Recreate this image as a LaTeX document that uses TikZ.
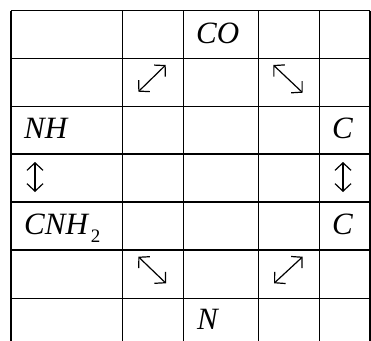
\documentclass[tikz,border=0pt]{standalone}
\usepackage{fontspec}
\setmainfont{Liberation Serif}
\usetikzlibrary{arrows.meta}
\begin{document}
\begin{tikzpicture}[x=1pt,y=-1pt,
  gridline/.style={line width=1.3pt,black},
  chem/.style={anchor=base west,inner sep=0pt,font=\fontsize{31}{31}\selectfont\itshape},
  dbl/.style={line width=1.2pt,{Straight Barb[length=7.5pt,width=16pt,line width=1.2pt]}-{Straight Barb[length=7.5pt,width=16pt,line width=1.2pt]}}]
\useasboundingbox (0,0) rectangle (371,340);
\begin{scope}
\clip (0,0) rectangle (371,340);
% vertical lines
\foreach \x in {11,122.5,183.5,258.5,319.5,370}
  \draw[gridline] (\x,10.5) -- (\x,345);
% horizontal lines
\foreach \y in {10.5,58.5,106.5,154,202,250,298.5}
  \draw[gridline] (11,\y) -- (370,\y);
\end{scope}
% texts
\node[chem] (co) at (196,43.5) {CO};
\node[chem] (nh) at (24,138) {NH};
\node[chem] (c1) at (332,138) {C};
\node[chem] (cnh) at (24,234) {CNH\kern3pt\raisebox{-8.5pt}{\fontsize{19}{19}\selectfont\upshape 2}};
\node[chem] (c2) at (332,234) {C};
\node[chem] (n) at (197,329) {N};
% arrow endpoints
\coordinate (a1s) at (138.3,91.7); \coordinate (a1e) at (165.7,65);
\coordinate (a2s) at (273.3,65);   \coordinate (a2e) at (302.7,92.7);
\coordinate (a3s) at (35,162);     \coordinate (a3e) at (35,192);
\coordinate (a4s) at (343,162);    \coordinate (a4e) at (343,192);
\coordinate (a5s) at (138.3,256.7); \coordinate (a5e) at (166,283.3);
\coordinate (a6s) at (274,283.3);  \coordinate (a6e) at (302.7,256.7);
\draw[dbl] (a1s) -- (a1e);
\draw[dbl] (a2s) -- (a2e);
\draw[dbl] (a3s) -- (a3e);
\draw[dbl] (a4s) -- (a4e);
\draw[dbl] (a5s) -- (a5e);
\draw[dbl] (a6s) -- (a6e);
\end{tikzpicture}
\end{document}
